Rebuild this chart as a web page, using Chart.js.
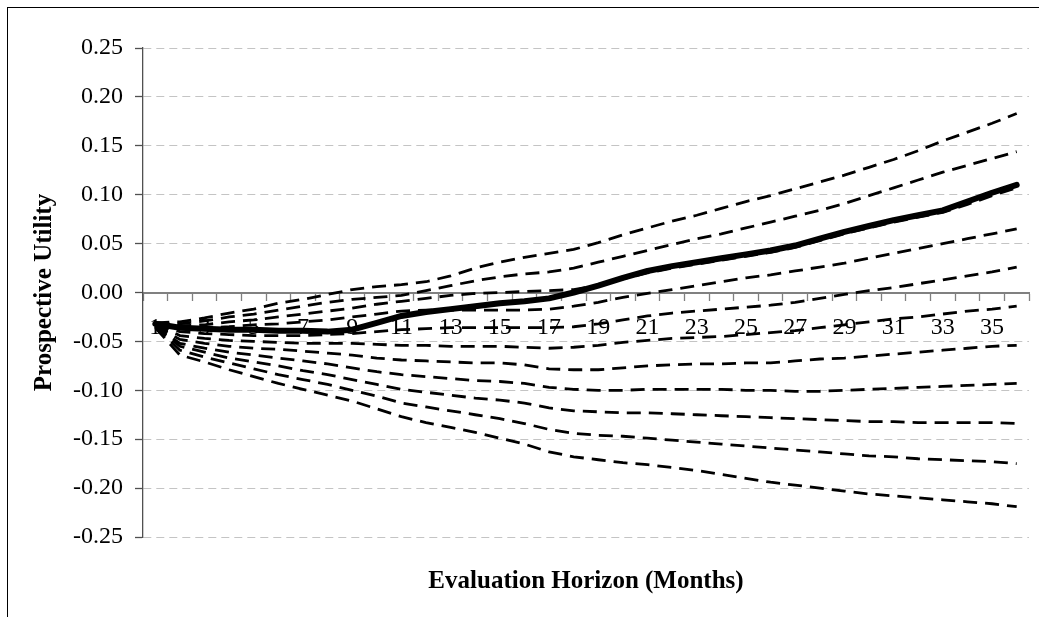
<!DOCTYPE html>
<html>
<head>
<meta charset="utf-8">
<script src="https://cdn.jsdelivr.net/npm/chart.js@4.4.1/dist/chart.umd.min.js"></script>
<style>
  html, body { margin: 0; padding: 0; background: #fff; overflow: hidden; }
  #wrap { position: relative; width: 1039px; height: 617px; }
  #frame { position: absolute; left: 7px; top: 7px; width: 1100px; height: 700px; border-left: 1px solid #000; border-top: 1px solid #000; }
  canvas { position: absolute; left: 0; top: 0; }
</style>
</head>
<body>
<div id="wrap">
  <div id="frame"></div>
  <canvas id="utilityChart" width="1039" height="617"></canvas>
</div>
<script>
// Evaluation horizon in months
const months = [1, 2, 3, 4, 5, 6, 7, 8, 9, 10, 11, 12, 13, 14, 15, 16, 17, 18,
  19, 20, 21, 22, 23, 24, 25, 26, 27, 28, 29, 30, 31, 32, 33, 34, 35, 36];

// thick solid line
const utility = [-0.032, -0.036, -0.037, -0.038, -0.038, -0.039, -0.039, -0.040, -0.038, -0.031,
  -0.024, -0.020, -0.017, -0.014, -0.011, -0.009, -0.006, 0.000, 0.007, 0.015,
  0.022, 0.027, 0.031, 0.035, 0.039, 0.043, 0.048, 0.055, 0.062, 0.068,
  0.074, 0.079, 0.084, 0.093, 0.102, 0.110];

// dashed lines, top to bottom
const band1 = [-0.031, -0.030, -0.026, -0.021, -0.017, -0.011, -0.007, -0.002, 0.003, 0.006,
  0.008, 0.011, 0.017, 0.025, 0.031, 0.036, 0.040, 0.044, 0.051, 0.059,
  0.066, 0.073, 0.079, 0.086, 0.093, 0.099, 0.106, 0.113, 0.120, 0.128,
  0.136, 0.145, 0.155, 0.164, 0.173, 0.183];
const band2 = [-0.031, -0.032, -0.029, -0.025, -0.022, -0.018, -0.014, -0.010, -0.007, -0.005,
  -0.003, 0.002, 0.007, 0.012, 0.016, 0.019, 0.021, 0.025, 0.031, 0.037,
  0.043, 0.049, 0.055, 0.060, 0.066, 0.072, 0.078, 0.084, 0.091, 0.099,
  0.107, 0.115, 0.123, 0.130, 0.137, 0.144];
const band3 = [-0.032, -0.034, -0.033, -0.030, -0.028, -0.025, -0.022, -0.019, -0.016, -0.012,
  -0.009, -0.006, -0.003, -0.001, 0.000, 0.001, 0.002, 0.003, 0.007, 0.014,
  0.020, 0.025, 0.029, 0.033, 0.037, 0.041, 0.046, 0.053, 0.060, 0.066,
  0.072, 0.077, 0.082, 0.090, 0.099, 0.107];
const band4 = [-0.032, -0.037, -0.036, -0.035, -0.033, -0.032, -0.030, -0.028, -0.025, -0.022,
  -0.019, -0.018, -0.018, -0.018, -0.018, -0.018, -0.017, -0.014, -0.010, -0.005,
  -0.001, 0.003, 0.007, 0.011, 0.015, 0.018, 0.022, 0.026, 0.030, 0.035,
  0.040, 0.045, 0.050, 0.055, 0.060, 0.065];
const band5 = [-0.033, -0.040, -0.042, -0.043, -0.044, -0.044, -0.044, -0.043, -0.042, -0.040,
  -0.038, -0.037, -0.036, -0.036, -0.036, -0.036, -0.036, -0.035, -0.032, -0.028,
  -0.024, -0.021, -0.019, -0.017, -0.015, -0.013, -0.010, -0.006, -0.002, 0.002,
  0.005, 0.009, 0.013, 0.017, 0.021, 0.026];
const band6 = [-0.033, -0.044, -0.047, -0.049, -0.050, -0.051, -0.052, -0.052, -0.052, -0.053,
  -0.054, -0.054, -0.055, -0.055, -0.055, -0.056, -0.057, -0.056, -0.054, -0.051,
  -0.049, -0.047, -0.046, -0.045, -0.043, -0.041, -0.039, -0.036, -0.033, -0.030,
  -0.027, -0.025, -0.022, -0.019, -0.017, -0.014];
const band7 = [-0.034, -0.048, -0.052, -0.055, -0.057, -0.058, -0.060, -0.062, -0.064, -0.067,
  -0.069, -0.070, -0.071, -0.072, -0.072, -0.074, -0.078, -0.079, -0.079, -0.077,
  -0.075, -0.074, -0.073, -0.073, -0.072, -0.072, -0.070, -0.068, -0.067, -0.065,
  -0.063, -0.061, -0.059, -0.057, -0.055, -0.054];
const band8 = [-0.034, -0.052, -0.057, -0.061, -0.064, -0.067, -0.070, -0.073, -0.077, -0.081,
  -0.084, -0.086, -0.088, -0.090, -0.091, -0.093, -0.097, -0.099, -0.100, -0.100,
  -0.099, -0.099, -0.099, -0.099, -0.100, -0.100, -0.101, -0.101, -0.100, -0.099,
  -0.098, -0.097, -0.096, -0.095, -0.094, -0.093];
const band9 = [-0.035, -0.055, -0.061, -0.067, -0.071, -0.075, -0.080, -0.084, -0.089, -0.094,
  -0.099, -0.102, -0.105, -0.108, -0.110, -0.113, -0.118, -0.121, -0.122, -0.123,
  -0.123, -0.124, -0.125, -0.126, -0.127, -0.128, -0.129, -0.130, -0.131, -0.132,
  -0.132, -0.133, -0.133, -0.133, -0.133, -0.134];
const band10 = [-0.035, -0.059, -0.066, -0.072, -0.078, -0.084, -0.089, -0.094, -0.100, -0.106,
  -0.113, -0.117, -0.121, -0.125, -0.129, -0.134, -0.140, -0.144, -0.146, -0.147,
  -0.149, -0.151, -0.153, -0.155, -0.157, -0.159, -0.161, -0.163, -0.165, -0.167,
  -0.168, -0.170, -0.171, -0.172, -0.173, -0.175];
const band11 = [-0.036, -0.064, -0.071, -0.079, -0.086, -0.093, -0.099, -0.105, -0.111, -0.119,
  -0.127, -0.133, -0.138, -0.143, -0.149, -0.155, -0.163, -0.168, -0.171, -0.174,
  -0.176, -0.179, -0.182, -0.186, -0.190, -0.194, -0.197, -0.200, -0.203, -0.206,
  -0.208, -0.210, -0.212, -0.214, -0.216, -0.219];

const serif = "'Liberation Serif', 'Times New Roman', serif";
const bands = [band1, band2, band3, band4, band5, band6, band7, band8, band9, band10, band11];

// solid line first so it is painted on top
let datasets = [{
  label: 'Prospective utility',
  data: utility,
  borderColor: '#000',
  borderWidth: 6,
  borderJoinStyle: 'round',
  borderCapStyle: 'round'
}];
for (var i = 0; i < bands.length; i++) {
  datasets.push({
    label: 'Band ' + (i + 1),
    data: bands[i],
    borderColor: '#000',
    borderWidth: 2.8,
    borderDash: [14, 8]
  });
}

new Chart(document.getElementById('utilityChart'), {
  type: 'line',
  data: { labels: months, datasets: datasets },
  options: {
    responsive: false,
    animation: false,
    layout: { padding: { top: 48, right: 10, bottom: 0, left: 0 } },
    plugins: { legend: { display: false }, tooltip: { enabled: false } },
    elements: { point: { radius: 0 }, line: { tension: 0 } },
    scales: {
      x: {
        type: 'category',
        position: { y: 0 },
        offset: true,
        grid: { offset: true, drawOnChartArea: false, tickLength: 7, tickColor: '#808080', tickWidth: 1.3 },
        border: { color: '#808080', width: 2 },
        ticks: {
          autoSkip: false, maxRotation: 0, padding: 14, color: '#000',
          font: { family: serif, size: 24 },
          callback: function (val, idx) { return idx % 2 === 0 ? this.getLabelForValue(val) : ''; }
        },
        afterFit: function (scale) { scale.height = 0; }
      },
      x2: {
        type: 'category',
        position: 'bottom',
        grid: { display: false },
        border: { display: false },
        ticks: { display: false },
        title: {
          display: true, text: 'Evaluation Horizon (Months)', color: '#000',
          font: { family: serif, size: 25, weight: 'bold' },
          padding: { top: 0, bottom: 20 }
        },
        afterFit: function (scale) { scale.height = 80; }
      },
      y: {
        min: -0.25,
        max: 0.25,
        ticks: {
          stepSize: 0.05, padding: 12, color: '#000',
          font: { family: serif, size: 24 },
          callback: function (v) { return (Math.abs(v) < 1e-9 ? 0 : v).toFixed(2); }
        },
        grid: { color: '#c4c4c4', lineWidth: 1, tickLength: 8, tickColor: '#505050', tickWidth: 1.3, tickBorderDash: [] },
        border: { dash: [8, 5], color: '#505050', width: 1.3 },
        title: {
          display: true, text: 'Prospective Utility', color: '#000',
          font: { family: serif, size: 25, weight: 'bold' },
          padding: { top: 30, bottom: 0 }
        },
        afterFit: function (scale) { scale.width = 143; }
      }
    }
  }
});
</script>
</body>
</html>
